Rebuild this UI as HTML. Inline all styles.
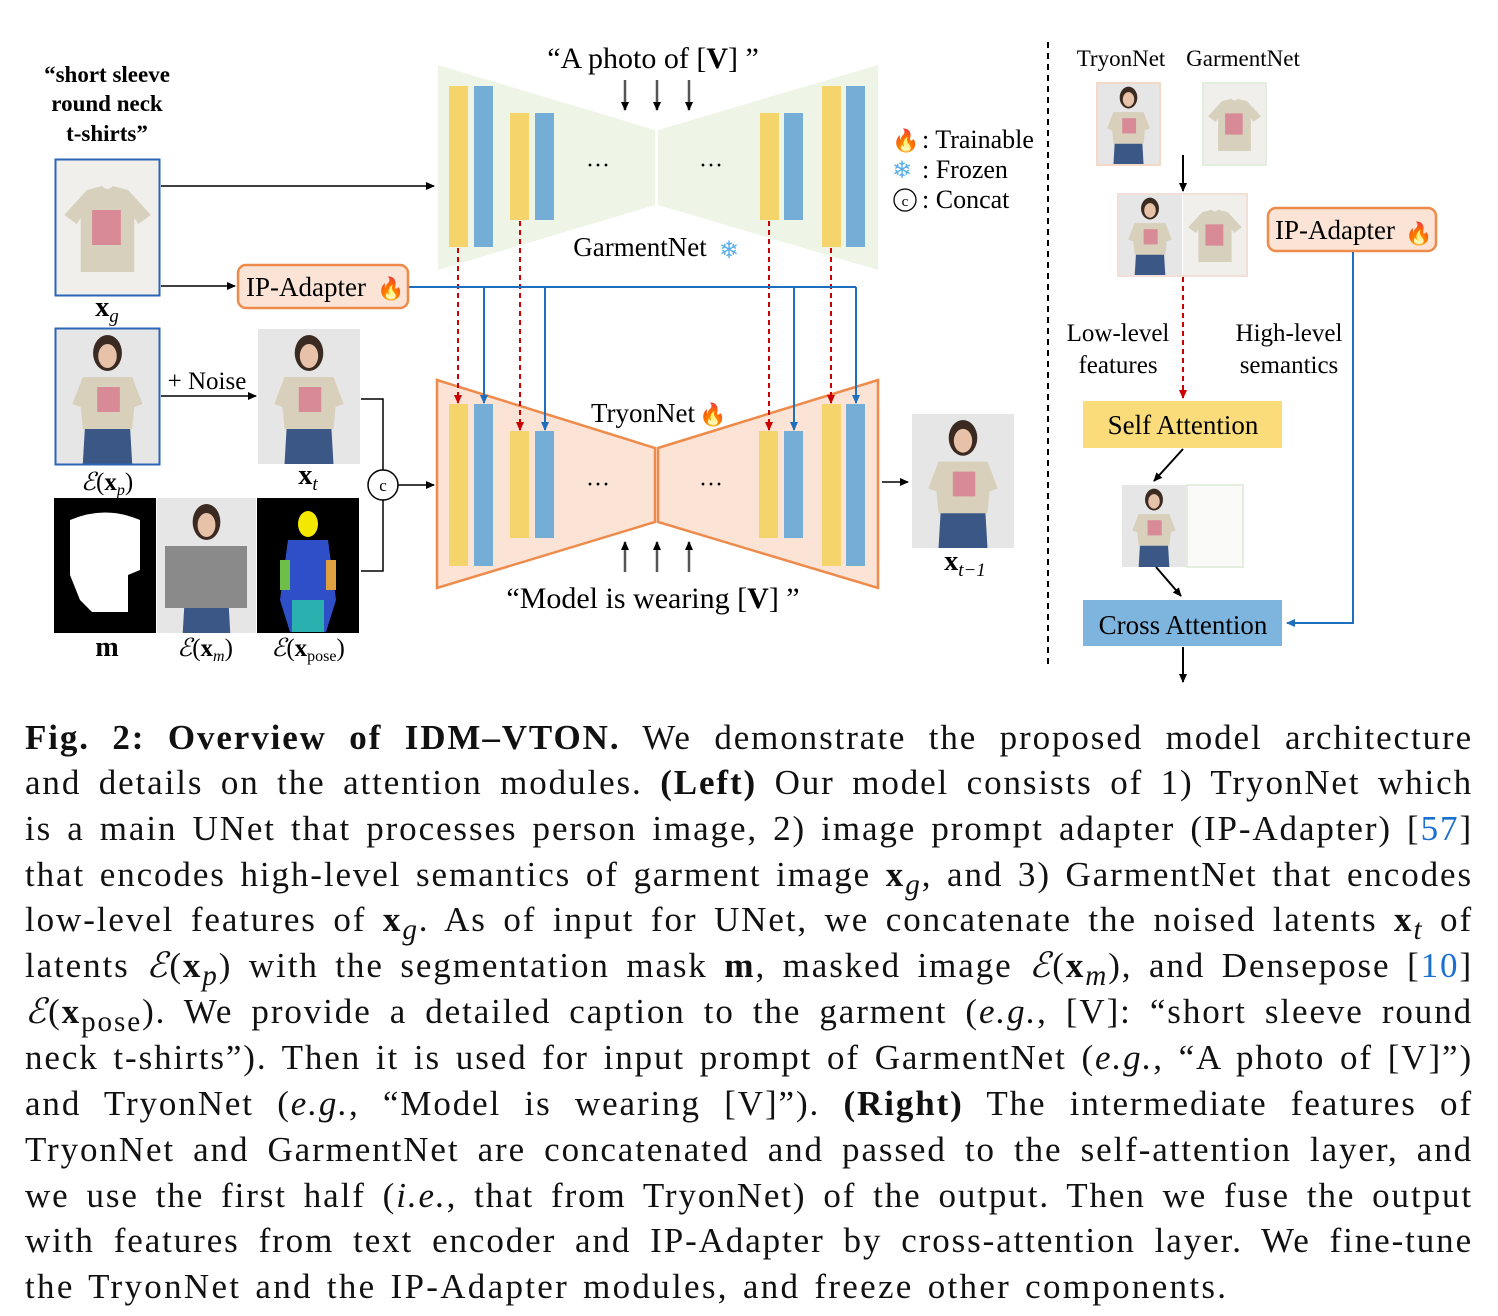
<!DOCTYPE html>
<html><head><meta charset="utf-8"><style>
body{margin:0;background:#fff;width:1498px;height:1316px;position:relative;overflow:hidden;font-family:"Liberation Serif",serif}
.l{position:absolute;left:25px;width:1448px;height:46px;line-height:46px;font-size:35px;letter-spacing:1.9px;word-spacing:1px;text-align:justify;text-align-last:justify;white-space:nowrap;color:#111}
.l.last{text-align-last:left;letter-spacing:2.3px;word-spacing:3px}
b{font-weight:bold}
.c{color:#1a6fd1}
svg{position:absolute;left:0;top:0}
</style></head><body>
<svg width="1498" height="700" viewBox="0 0 1498 700" font-family="Liberation Serif, serif">
<defs>
<symbol id="person" viewBox="0 0 100 135" preserveAspectRatio="none">
<rect width="100" height="135" fill="#e6e6e6"/>
<ellipse cx="50" cy="24" rx="14" ry="18" fill="#3a2a22"/>
<ellipse cx="50" cy="27" rx="9" ry="12" fill="#e8c2a8"/>
<path d="M26 48 L74 48 L84 75 L76 78 L74 100 L26 100 L24 78 L16 75Z" fill="#d8d0bb"/>
<path d="M40 58 h22 v25 h-22z" fill="#d88a96"/>
<path d="M28 100 L72 100 L74 135 L26 135Z" fill="#3b5785"/>
</symbol>
<symbol id="shirt" viewBox="0 0 100 135" preserveAspectRatio="none">
<rect width="100" height="135" fill="#f0efec"/>
<path d="M30 30 L45 26 Q50 32 55 26 L70 30 L92 55 L80 64 L76 58 L76 112 L24 112 L24 58 L20 64 L8 55Z" fill="#d6d0bd"/>
<path d="M35 50 h28 v35 h-28z" fill="#d88a96"/>
</symbol>
<marker id="ak" markerUnits="userSpaceOnUse" markerWidth="9" markerHeight="8" refX="8" refY="4" orient="auto"><path d="M0 0L9 4L0 8Z" fill="#000"/></marker>
<marker id="ab" markerUnits="userSpaceOnUse" markerWidth="9" markerHeight="8" refX="8" refY="4" orient="auto"><path d="M0 0L9 4L0 8Z" fill="#1f6fbf"/></marker>
<marker id="ar" markerUnits="userSpaceOnUse" markerWidth="9" markerHeight="8" refX="8" refY="4" orient="auto"><path d="M0 0L9 4L0 8Z" fill="#c00"/></marker>
</defs>
<polygon points="438,65 655,130 655,205 438,270" fill="#eef5e6"/>
<polygon points="658,130 878,65 878,270 658,205" fill="#eef5e6"/>
<polygon points="437,380 655,448 655,522 437,588" fill="#fbe3d6" stroke="#ee8a4a" stroke-width="2.5"/>
<polygon points="658,448 878,380 878,588 658,522" fill="#fbe3d6" stroke="#ee8a4a" stroke-width="2.5"/>
<g>
<rect x="449" y="86" width="19" height="161" fill="#f5d46b"/><rect x="474" y="86" width="19" height="161" fill="#74aed6"/>
<rect x="510" y="113" width="19" height="107" fill="#f5d46b"/><rect x="535" y="113" width="19" height="107" fill="#74aed6"/>
<rect x="760" y="113" width="19" height="107" fill="#f5d46b"/><rect x="784" y="113" width="19" height="107" fill="#74aed6"/>
<rect x="822" y="86" width="19" height="161" fill="#f5d46b"/><rect x="846" y="86" width="19" height="161" fill="#74aed6"/>
<rect x="449" y="404" width="19" height="162" fill="#f5d46b"/><rect x="474" y="404" width="19" height="162" fill="#74aed6"/>
<rect x="510" y="431" width="19" height="107" fill="#f5d46b"/><rect x="535" y="431" width="19" height="107" fill="#74aed6"/>
<rect x="759" y="431" width="19" height="107" fill="#f5d46b"/><rect x="784" y="431" width="19" height="107" fill="#74aed6"/>
<rect x="822" y="404" width="19" height="162" fill="#f5d46b"/><rect x="846" y="404" width="19" height="162" fill="#74aed6"/>
</g>
<text x="598" y="173" font-size="24" text-anchor="middle">···</text>
<text x="711" y="173" font-size="24" text-anchor="middle">···</text>
<text x="598" y="492" font-size="24" text-anchor="middle">···</text>
<text x="711" y="492" font-size="24" text-anchor="middle">···</text>
<text x="653" y="68" font-size="30" text-anchor="middle">“A photo of [<tspan font-weight="bold">V</tspan>] ”</text>
<g stroke="#555" stroke-width="2.5" marker-end="url(#ak)"><line x1="625" y1="80" x2="625" y2="110"/><line x1="657" y1="80" x2="657" y2="110"/><line x1="689" y1="80" x2="689" y2="110"/></g>
<text x="640" y="256" font-size="27" text-anchor="middle">GarmentNet</text><text x="729" y="258" font-size="24" fill="#5aaee8" text-anchor="middle">❄</text>
<text x="643" y="422" font-size="27" text-anchor="middle">TryonNet</text><text x="713" y="422" font-size="22" fill="#f05a1a" text-anchor="middle">🔥</text>
<g stroke="#555" stroke-width="2.5" marker-end="url(#ak)"><line x1="625" y1="572" x2="625" y2="542"/><line x1="657" y1="572" x2="657" y2="542"/><line x1="689" y1="572" x2="689" y2="542"/></g>
<text x="653" y="608" font-size="30" text-anchor="middle">“Model is wearing [<tspan font-weight="bold">V</tspan>] ”</text>
<g stroke="#c00" stroke-width="2" stroke-dasharray="5,4" marker-end="url(#ar)"><line x1="458" y1="248" x2="458" y2="403"/><line x1="520" y1="221" x2="520" y2="430"/><line x1="769" y1="221" x2="769" y2="430"/><line x1="831" y1="248" x2="831" y2="403"/></g>
<g stroke="#1f6fbf" stroke-width="2" fill="none"><path d="M408 287 H856"/></g>
<g stroke="#1f6fbf" stroke-width="2" marker-end="url(#ab)"><line x1="484" y1="287" x2="484" y2="403"/><line x1="545" y1="287" x2="545" y2="430"/><line x1="794" y1="287" x2="794" y2="430"/><line x1="856" y1="287" x2="856" y2="403"/></g>
<text x="892" y="148" font-size="22" fill="#f05a1a">🔥</text><text x="922" y="148" font-size="26">: Trainable</text>
<text x="892" y="178" font-size="24" fill="#5aaee8">❄</text><text x="922" y="178" font-size="26">: Frozen</text>
<circle cx="905" cy="200" r="11" fill="none" stroke="#000" stroke-width="1.3"/><text x="905" y="206" font-size="15" text-anchor="middle">c</text><text x="922" y="208" font-size="26">: Concat</text>
<text x="107" y="82" font-size="23" font-weight="bold" text-anchor="middle">“short sleeve</text>
<text x="107" y="111" font-size="23" font-weight="bold" text-anchor="middle">round neck</text>
<text x="107" y="141" font-size="23" font-weight="bold" text-anchor="middle">t-shirts”</text>
<use href="#shirt" x="56" y="160" width="103" height="135"/><rect x="55.5" y="159.5" width="104" height="136" fill="none" stroke="#2a66b8" stroke-width="2"/>
<text x="107" y="316" font-size="28" font-weight="bold" text-anchor="middle">x<tspan font-size="19" font-style="italic" font-weight="normal" dy="6">g</tspan></text>
<line x1="161" y1="186" x2="434" y2="186" stroke="#000" stroke-width="1.5" marker-end="url(#ak)"/>
<line x1="161" y1="286" x2="235" y2="286" stroke="#000" stroke-width="1.5" marker-end="url(#ak)"/>
<rect x="238" y="265" width="170" height="43" rx="8" fill="#fbe3d6" stroke="#ee8a4a" stroke-width="2.5"/>
<text x="246" y="296" font-size="27">IP-Adapter</text><text x="377" y="296" font-size="22" fill="#f05a1a">🔥</text>
<use href="#person" x="56" y="329" width="103" height="135"/><rect x="55.5" y="328.5" width="104" height="136" fill="none" stroke="#2a66b8" stroke-width="2"/>
<text x="107" y="490" font-size="25" text-anchor="middle"><tspan font-style="italic">ℰ</tspan>(<tspan font-weight="bold">x</tspan><tspan font-size="16" font-style="italic" dy="5">p</tspan><tspan dy="-5">)</tspan></text>
<line x1="161" y1="396" x2="256" y2="396" stroke="#000" stroke-width="1.5" marker-end="url(#ak)"/>
<text x="207" y="389" font-size="25" text-anchor="middle">+ Noise</text>
<use href="#person" x="258" y="329" width="102" height="135"/>
<text x="308" y="484" font-size="28" font-weight="bold" text-anchor="middle">x<tspan font-size="19" font-style="italic" font-weight="normal" dy="6">t</tspan></text>
<rect x="54" y="498" width="102" height="135" fill="#000"/>
<path d="M70 520 Q105 505 140 520 L140 570 L128 575 L128 612 L92 612 L80 600 L70 575Z" fill="#fff"/>
<use href="#person" x="157" y="498" width="99" height="135"/>
<rect x="165" y="546" width="82" height="62" fill="#8a8a8a"/>
<rect x="257" y="498" width="102" height="135" fill="#000"/>
<ellipse cx="308" cy="524" rx="10" ry="13" fill="#f5e800"/>
<path d="M288 540 L328 540 L336 600 L326 632 L290 632 L280 600Z" fill="#2f4fc8"/>
<rect x="280" y="560" width="10" height="30" fill="#6dbf4a"/><rect x="326" y="560" width="10" height="30" fill="#e0a040"/>
<rect x="292" y="600" width="32" height="32" fill="#2bb0b0"/>
<text x="107" y="656" font-size="28" font-weight="bold" text-anchor="middle">m</text>
<text x="205" y="656" font-size="25" text-anchor="middle"><tspan font-style="italic">ℰ</tspan>(<tspan font-weight="bold">x</tspan><tspan font-size="16" font-style="italic" dy="5">m</tspan><tspan dy="-5">)</tspan></text>
<text x="308" y="656" font-size="25" text-anchor="middle"><tspan font-style="italic">ℰ</tspan>(<tspan font-weight="bold">x</tspan><tspan font-size="16" dy="5">pose</tspan><tspan dy="-5">)</tspan></text>
<path d="M361 399 H383 V571 H361" fill="none" stroke="#000" stroke-width="1.5"/>
<circle cx="383" cy="485" r="15" fill="#fff" stroke="#000" stroke-width="1.5"/><text x="383" y="491" font-size="17" text-anchor="middle">c</text>
<line x1="398" y1="485" x2="434" y2="485" stroke="#000" stroke-width="1.5" marker-end="url(#ak)"/>
<line x1="882" y1="482" x2="908" y2="482" stroke="#000" stroke-width="1.5" marker-end="url(#ak)"/>
<use href="#person" x="912" y="414" width="102" height="134"/>
<text x="965" y="570" font-size="28" font-weight="bold" text-anchor="middle">x<tspan font-size="19" font-style="italic" font-weight="normal" dy="6">t−1</tspan></text>
<line x1="1048" y1="42" x2="1048" y2="665" stroke="#000" stroke-width="2" stroke-dasharray="6,5"/>
<text x="1121" y="66" font-size="23" text-anchor="middle">TryonNet</text>
<text x="1243" y="66" font-size="23" text-anchor="middle">GarmentNet</text>
<use href="#person" x="1097" y="83" width="63" height="82"/><rect x="1097" y="83" width="63" height="82" fill="none" stroke="#f6d8c8" stroke-width="2"/>
<use href="#shirt" x="1203" y="83" width="63" height="82"/><rect x="1203" y="83" width="63" height="82" fill="none" stroke="#dfeedd" stroke-width="2"/>
<line x1="1183" y1="155" x2="1183" y2="191" stroke="#000" stroke-width="2" marker-end="url(#ak)"/>
<use href="#person" x="1118" y="194" width="64" height="82"/><use href="#shirt" x="1183" y="194" width="64" height="82"/>
<rect x="1118" y="194" width="129" height="82" fill="none" stroke="#f0e0d8" stroke-width="2"/>
<line x1="1183" y1="277" x2="1183" y2="398" stroke="#c00" stroke-width="2" stroke-dasharray="5,4" marker-end="url(#ar)"/>
<rect x="1268" y="208" width="168" height="43" rx="8" fill="#fbe3d6" stroke="#ee8a4a" stroke-width="2.5"/>
<text x="1275" y="239" font-size="27">IP-Adapter</text><text x="1405" y="241" font-size="22" fill="#f05a1a">🔥</text>
<path d="M1353 252 V623 H1287" fill="none" stroke="#1f6fbf" stroke-width="2" marker-end="url(#ab)"/>
<text x="1118" y="341" font-size="25" text-anchor="middle">Low-level</text><text x="1118" y="373" font-size="25" text-anchor="middle">features</text>
<text x="1289" y="341" font-size="25" text-anchor="middle">High-level</text><text x="1289" y="373" font-size="25" text-anchor="middle">semantics</text>
<rect x="1083" y="401" width="199" height="47" fill="#fbdc7a"/><text x="1183" y="434" font-size="27" text-anchor="middle">Self Attention</text>
<line x1="1183" y1="449" x2="1154" y2="481" stroke="#000" stroke-width="2" marker-end="url(#ak)"/>
<use href="#person" x="1122" y="485" width="64" height="82"/><rect x="1187" y="485" width="56" height="82" fill="#fafaf8" stroke="#e3eee0" stroke-width="2"/>
<line x1="1156" y1="567" x2="1181" y2="596" stroke="#000" stroke-width="2" marker-end="url(#ak)"/>
<rect x="1083" y="600" width="199" height="46" fill="#7db5df"/><text x="1183" y="634" font-size="27" text-anchor="middle">Cross Attention</text>
<line x1="1183" y1="647" x2="1183" y2="682" stroke="#000" stroke-width="2" marker-end="url(#ak)"/>
</svg>
<div class="l" style="top:715px"><b>Fig. 2: Overview of IDM–VTON.</b> We demonstrate the proposed model architecture</div>
<div class="l" style="top:760px">and details on the attention modules. <b>(Left)</b> Our model consists of 1) TryonNet which</div>
<div class="l" style="top:806px">is a main UNet that processes person image, 2) image prompt adapter (IP-Adapter) [<span class="c">57</span>]</div>
<div class="l" style="top:852px">that encodes high-level semantics of garment image <b>x</b><sub><i>g</i></sub>, and 3) GarmentNet that encodes</div>
<div class="l" style="top:897px">low-level features of <b>x</b><sub><i>g</i></sub>. As of input for UNet, we concatenate the noised latents <b>x</b><sub><i>t</i></sub> of</div>
<div class="l" style="top:943px">latents <i>ℰ</i>(<b>x</b><sub><i>p</i></sub>) with the segmentation mask <b>m</b>, masked image <i>ℰ</i>(<b>x</b><sub><i>m</i></sub>), and Densepose [<span class="c">10</span>]</div>
<div class="l" style="top:989px"><i>ℰ</i>(<b>x</b><sub>pose</sub>). We provide a detailed caption to the garment (<i>e.g.</i>, [V]: “short sleeve round</div>
<div class="l" style="top:1035px">neck t-shirts”). Then it is used for input prompt of GarmentNet (<i>e.g.</i>, “A photo of [V]”)</div>
<div class="l" style="top:1081px">and TryonNet (<i>e.g.</i>, “Model is wearing [V]”). <b>(Right)</b> The intermediate features of</div>
<div class="l" style="top:1127px">TryonNet and GarmentNet are concatenated and passed to the self-attention layer, and</div>
<div class="l" style="top:1173px">we use the first half (<i>i.e.</i>, that from TryonNet) of the output. Then we fuse the output</div>
<div class="l" style="top:1218px">with features from text encoder and IP-Adapter by cross-attention layer. We fine-tune</div>
<div class="l last" style="top:1264px">the TryonNet and the IP-Adapter modules, and freeze other components.</div>
</body></html>
